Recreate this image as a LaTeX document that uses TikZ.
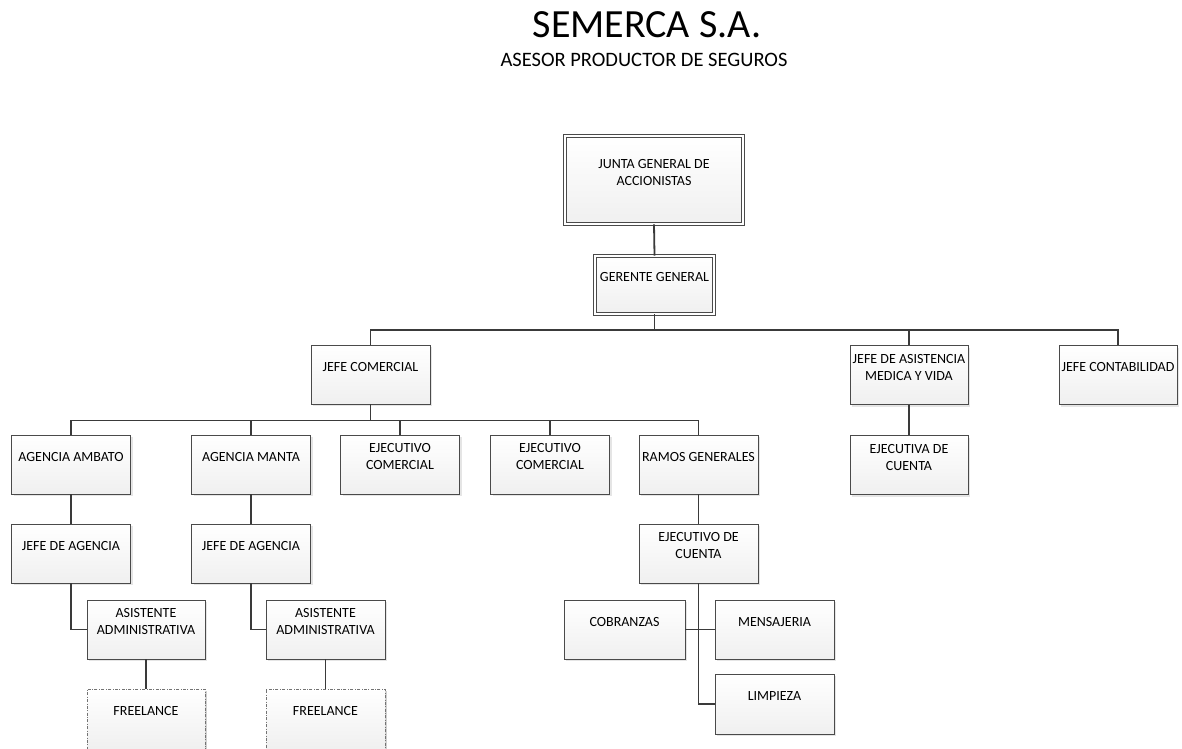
\documentclass[tikz,border=0pt]{standalone}
\usepackage{fontspec}
\setmainfont{Carlito}
\usetikzlibrary{shadows,calc}
\definecolor{linec}{HTML}{3A3A3A}
\definecolor{boxline}{HTML}{4A4A4A}
\tikzset{
  box/.style={draw=boxline, line width=0.8pt, minimum width=119pt, minimum height=59pt,
    inner sep=0pt, top color=white, bottom color=black!6,
    drop shadow={shadow xshift=2pt, shadow yshift=-2pt, opacity=0.2}},
  dblbox/.style={box, double=white, double distance=2.4pt, line width=0.7pt},
  freebox/.style={box, draw=black!55, dash pattern=on 3pt off 1.5pt on 0.8pt off 1.5pt, drop shadow={opacity=0}},
  boxtext/.style={font=\fontsize{14}{17}\selectfont, align=center, inner sep=0pt, text=black},
  conn/.style={draw=linec, line width=1.8pt},
}
\newcommand\orgbox[5][]{%
  \node[box,#1] (#2) at (#3,#4) {};
  \node[boxtext] (#2-t) at ([yshift=8pt]#2.center) {#5};
}
\begin{document}
\begin{tikzpicture}[x=1pt,y=-1pt]
\useasboundingbox (0,0) rectangle (1182,748);
\fill[white] (0,0) rectangle (1182,748);

\node[font=\fontsize{40}{48}\selectfont, inner sep=0pt] (title) at (647,24.5) {SEMERCA S.A.};
\node[font=\fontsize{20.5}{24}\selectfont, inner sep=0pt] (subtitle) at (644,59.5) {ASESOR PRODUCTOR DE SEGUROS};

\orgbox[dblbox, minimum width=178pt, minimum height=88pt]{junta}{654}{180}{JUNTA GENERAL DE\\ACCIONISTAS}
\orgbox[dblbox, minimum width=119pt, minimum height=58pt]{gerente}{654.5}{285}{GERENTE GENERAL}

\orgbox{jcom}{370.5}{374.5}{JEFE COMERCIAL}
\orgbox[minimum width=118pt]{jasist}{909}{375}{JEFE DE ASISTENCIA\\MEDICA Y VIDA}
\orgbox[minimum width=118pt]{jcont}{1118}{375}{JEFE CONTABILIDAD}

\orgbox{ambato}{71}{464.5}{AGENCIA AMBATO}
\orgbox{manta}{251}{464.5}{AGENCIA MANTA}
\orgbox{ejc1}{400}{464.5}{EJECUTIVO\\COMERCIAL}
\orgbox{ejc2}{550}{464.5}{EJECUTIVO\\COMERCIAL}
\orgbox{ramos}{698.5}{464.5}{RAMOS GENERALES}
\orgbox[minimum width=118pt]{ejcta}{909}{465}{EJECUTIVA DE\\CUENTA}

\orgbox{jag1}{71}{553.5}{JEFE DE AGENCIA}
\orgbox{jag2}{251}{553.5}{JEFE DE AGENCIA}
\orgbox{ejcu}{698.5}{553.5}{EJECUTIVO DE\\CUENTA}

\orgbox[minimum width=118pt]{asis1}{146}{629.5}{ASISTENTE\\ADMINISTRATIVA}
\orgbox{asis2}{325.5}{629.5}{ASISTENTE\\ADMINISTRATIVA}
\orgbox[minimum width=121pt]{cobr}{624.5}{629.5}{COBRANZAS}
\orgbox{mens}{774.5}{629.5}{MENSAJERIA}
\orgbox[minimum height=60pt]{limp}{774.5}{704}{LIMPIEZA}

\orgbox[freebox, minimum width=118pt, minimum height=60pt]{free1}{146}{719}{FREELANCE}
\orgbox[freebox, minimum height=60pt]{free2}{325.5}{719}{FREELANCE}

% connectors
\draw[conn] (junta.south) -- (gerente.north);
\draw[conn] (gerente.south) -- ++(0,16) -| (jcom.north);
\draw[conn] (gerente.south) -- ++(0,16) -| (jasist.north);
\draw[conn] (gerente.south) -- ++(0,16) -| (jcont.north);

\foreach \t in {ambato,manta,ejc1,ejc2,ramos}
  \draw[conn] (jcom.south) -- ++(0,16) -| (\t.north);

\draw[conn] (jasist.south) -- (ejcta.north);
\draw[conn] (ambato.south) -- (jag1.north);
\draw[conn] (manta.south) -- (jag2.north);
\draw[conn] (ramos.south) -- (ejcu.north);
\draw[conn] (jag1.south) |- (asis1.west);
\draw[conn] (jag2.south) |- (asis2.west);
\draw[conn] (asis1.south) -- (free1.north);
\draw[conn] (asis2.south) -- (free2.north);
\draw[conn] (ejcu.south) |- (limp.west);
\draw[conn] (cobr.east) -- (mens.west);
\end{tikzpicture}
\end{document}
